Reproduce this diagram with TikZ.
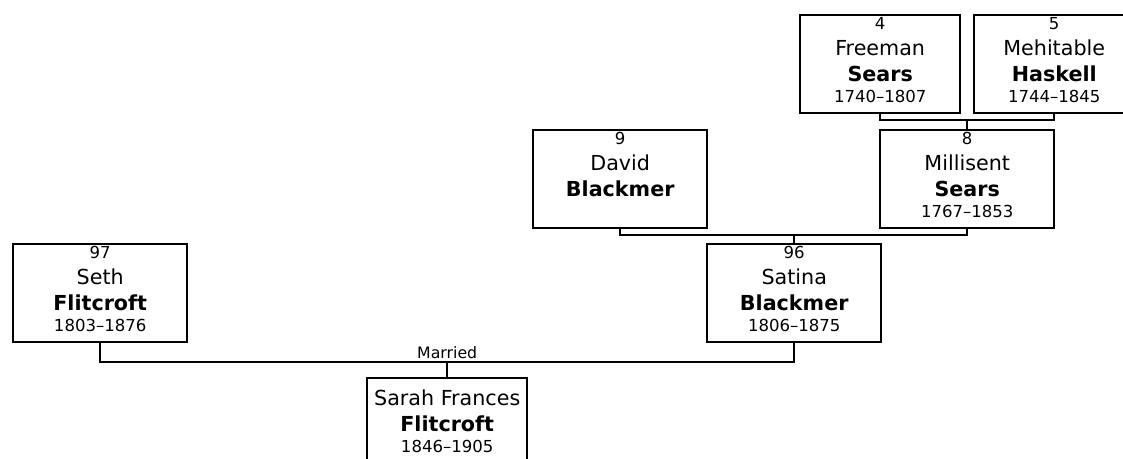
\documentclass[tikz,border=0pt]{standalone}
\usepackage{fontspec}
\setmainfont{DejaVu Sans}
\usetikzlibrary{calc}
\tikzset{
  pbox/.style={draw, line width=1.8pt, minimum height=73.5pt, inner sep=0pt, anchor=north west},
  numtxt/.style={anchor=base, inner sep=0pt, font=\fontsize{12.4pt}{14pt}\selectfont},
  nametxt/.style={anchor=base, inner sep=0pt, font=\fontsize{15.5pt}{18pt}\selectfont},
  surtxt/.style={anchor=base, inner sep=0pt, font=\fontsize{15.5pt}{18pt}\selectfont\bfseries},
  datetxt/.style={anchor=base, inner sep=0pt, font=\fontsize{12.4pt}{14pt}\selectfont},
  conn/.style={line width=1.8pt},
  lbl/.style={anchor=base, inner sep=0pt, font=\fontsize{11.8pt}{14pt}\selectfont}
}
% #1 id, #2 x, #3 y, #4 width (px), #5 number, #6 first, #7 last, #8 dates
\newcommand\personbox[8]{%
  \node[pbox, minimum width=#4*0.75pt] (#1) at (#2,#3) {};
  \node[numtxt] (#1n) at ($(#1.north)+(0,15)$) {#5};
  \node[nametxt] (#1f) at ($(#1.north)+(0,41.5)$) {#6};
  \node[surtxt] (#1l) at ($(#1.north)+(0,67.5)$) {#7};
  \node[datetxt] (#1d) at ($(#1.north)+(0,88.5)$) {#8};
}
\begin{document}
\begin{tikzpicture}[x=0.75pt,y=-0.75pt]
\useasboundingbox (0,0) rectangle (1123,458);
\clip (0,0) rectangle (1123,458);
\personbox{p4}{799}{14}{160}{4}{Freeman}{Sears}{1740–1807}
\personbox{p5}{973}{14}{160}{5}{Mehitable}{Haskell}{1744–1845}
\personbox{p8}{879}{129}{174}{8}{Millisent}{Sears}{1767–1853}
\personbox{p9}{532}{129}{174}{9}{David}{Blackmer}{}
\personbox{p96}{706}{243}{174}{96}{Satina}{Blackmer}{1806–1875}
\personbox{p97}{12}{243}{174}{97}{Seth}{Flitcroft}{1803–1876}
% child with no number
\node[pbox, minimum width=120pt] (p1) at (366,377) {};
\node[nametxt] (p1f) at ($(p1.north)+(0,28)$) {Sarah Frances};
\node[surtxt] (p1l) at ($(p1.north)+(0,54)$) {Flitcroft};
\node[datetxt] (p1d) at ($(p1.north)+(0,75)$) {1846–1905};
% connectors
\coordinate (j4) at ($(p8.north)+(0,-9)$);
\draw[conn] (p4.south) |- (j4) -| (p5.south);
\draw[conn] (j4) -- (p8.north);
\coordinate (j8) at ($(p96.north)+(0,-8)$);
\draw[conn] (p9.south) |- (j8) -| (p8.south);
\draw[conn] (p96.north) -- (p96.north |- j8);
\coordinate (j1) at ($(p1.north)+(0,-15)$);
\draw[conn] (p97.south) |- (j1) -| (p96.south);
\draw[conn] (j1) -- (p1.north);
\node[lbl] (mar) at ($(j1)+(0,-4)$) {Married};
\end{tikzpicture}
\end{document}
